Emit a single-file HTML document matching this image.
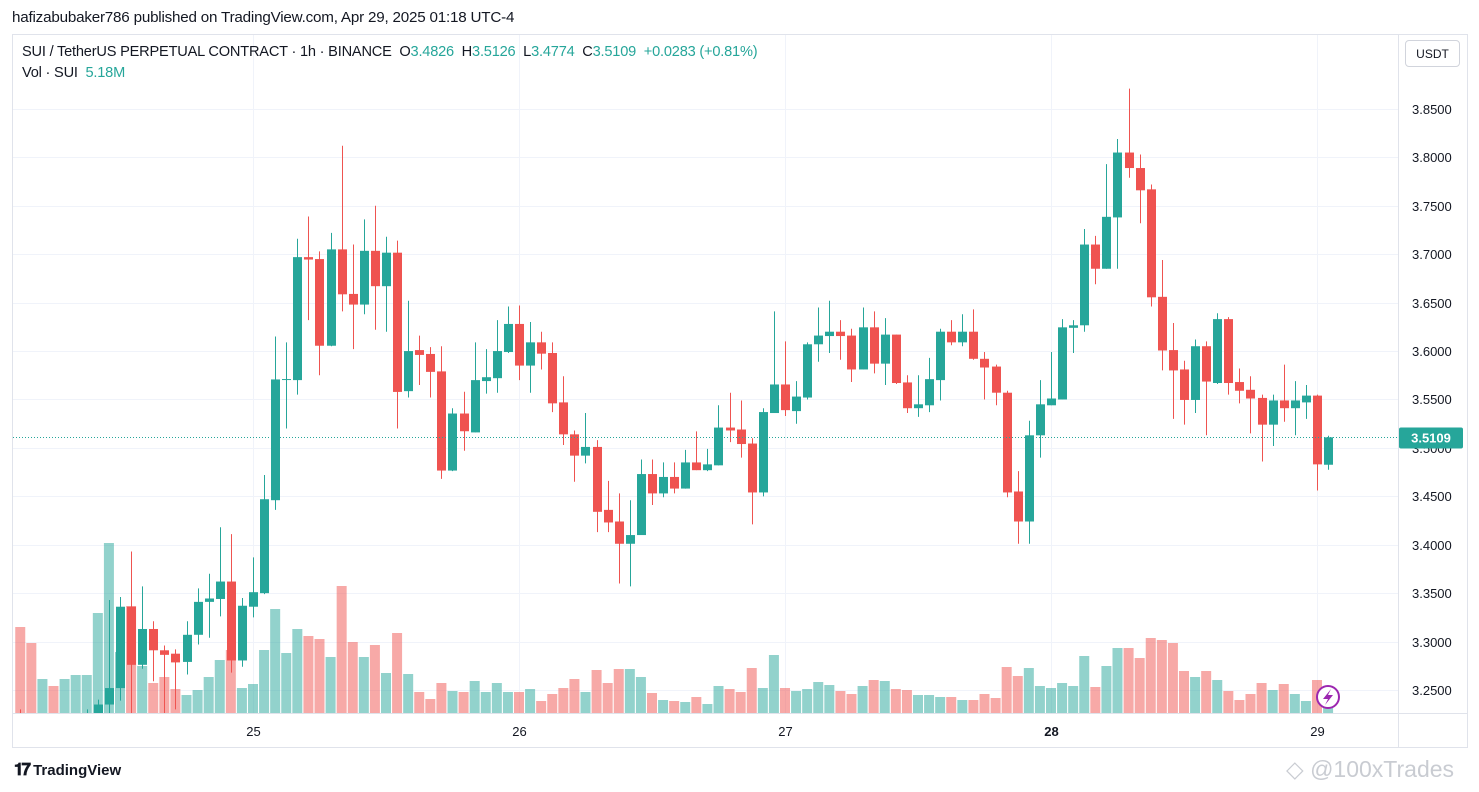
<!DOCTYPE html>
<html><head><meta charset="utf-8"><style>
html,body{margin:0;padding:0;background:#fff;width:1479px;height:792px;overflow:hidden;font-family:"Liberation Sans",sans-serif;color:#131722}
#pub{position:absolute;left:12px;top:9px;font-size:15.2px;letter-spacing:-0.2px}
#legend{position:absolute;left:22px;top:44px;font-size:14.6px;letter-spacing:-0.2px;white-space:nowrap}
#legend2{position:absolute;left:22px;top:65px;font-size:14.6px;letter-spacing:-0.2px}
.g{color:#26a69a}
#usdt{position:absolute;left:1405px;top:40px;width:55px;height:27px;border:1px solid #d1d4dc;border-radius:4px;font-size:12px;text-align:center;line-height:27px;box-sizing:border-box}
#tvlogo{position:absolute;left:14px;top:760px;font-size:15px;font-weight:bold;color:#131722}
#wm{position:absolute;left:1286px;top:756px;font-size:23px;color:#c9ccd2}
</style></head><body>
<div id="pub">hafizabubaker786 published on TradingView.com, Apr 29, 2025 01:18 UTC-4</div>
<svg id="chart" width="1479" height="792" style="position:absolute;left:0;top:0"></svg>
<div id="legend">SUI / TetherUS PERPETUAL CONTRACT · 1h · BINANCE&nbsp;&nbsp;O<span class="g">3.4826</span>&nbsp;&nbsp;H<span class="g">3.5126</span>&nbsp;&nbsp;L<span class="g">3.4774</span>&nbsp;&nbsp;C<span class="g">3.5109</span>&nbsp;&nbsp;<span class="g">+0.0283 (+0.81%)</span></div>
<div id="legend2">Vol · SUI&nbsp;&nbsp;<span class="g">5.18M</span></div>
<div id="usdt">USDT</div>
<div id="tvlogo"><span style="font-size:17px;letter-spacing:-2px">𝟏𝟕</span> TradingView</div>
<div id="wm">◇ @100xTrades</div>
<script>
const startIndex = -21;
const opens = [3.22,3.20,3.18,3.20,3.19,3.20,3.21,3.22,
3.235,3.252,3.336,3.276,3.313,3.291,3.2875,3.279,3.307,3.341,3.344,3.362,3.2805,3.336,3.350,3.446,3.5707,3.570,3.697,3.695,3.6055,3.705,3.659,3.648,3.7035,3.667,3.7016,3.5586,3.601,3.597,3.579,3.4766,3.5355,3.516,3.569,3.572,3.599,3.628,3.585,3.609,3.598,3.547,3.514,3.492,3.501,3.436,3.424,3.401,3.410,3.473,3.453,3.470,3.458,3.485,3.477,3.482,3.521,3.519,3.5045,3.454,3.536,3.5655,3.538,3.552,3.607,3.6155,3.620,3.616,3.581,3.6245,3.587,3.617,3.5676,3.541,3.544,3.570,3.620,3.609,3.620,3.592,3.584,3.557,3.455,3.424,3.513,3.544,3.550,3.624,3.6266,3.710,3.685,3.738,3.805,3.789,3.767,3.656,3.601,3.581,3.5495,3.605,3.567,3.633,3.568,3.560,3.5516,3.524,3.549,3.541,3.547,3.554,3.4826];
const highs = [3.23,3.21,3.21,3.21,3.21,3.22,3.23,3.24,
3.343,3.346,3.393,3.357,3.321,3.296,3.292,3.321,3.355,3.370,3.418,3.411,3.345,3.387,3.472,3.615,3.609,3.716,3.739,3.703,3.722,3.812,3.710,3.736,3.750,3.718,3.714,3.652,3.616,3.604,3.605,3.541,3.558,3.609,3.602,3.632,3.646,3.647,3.630,3.620,3.609,3.574,3.518,3.536,3.508,3.466,3.453,3.446,3.488,3.488,3.485,3.485,3.498,3.517,3.499,3.544,3.557,3.549,3.510,3.541,3.641,3.610,3.569,3.609,3.645,3.652,3.632,3.623,3.645,3.641,3.634,3.617,3.575,3.575,3.593,3.623,3.632,3.638,3.643,3.599,3.586,3.559,3.476,3.528,3.570,3.599,3.633,3.632,3.726,3.719,3.793,3.819,3.871,3.803,3.772,3.694,3.629,3.590,3.612,3.610,3.639,3.635,3.582,3.574,3.555,3.555,3.586,3.569,3.565,3.555,3.5126];
const lows = [3.18,3.17,3.17,3.18,3.18,3.19,3.20,3.20,
3.22,3.239,3.226,3.272,3.259,3.226,3.230,3.266,3.297,3.304,3.326,3.268,3.274,3.325,3.349,3.436,3.520,3.555,3.632,3.575,3.605,3.641,3.602,3.638,3.622,3.620,3.520,3.552,3.565,3.552,3.468,3.476,3.497,3.516,3.556,3.557,3.598,3.570,3.557,3.581,3.537,3.503,3.465,3.484,3.413,3.413,3.360,3.357,3.410,3.441,3.449,3.453,3.458,3.477,3.476,3.482,3.506,3.490,3.421,3.450,3.536,3.533,3.525,3.550,3.589,3.598,3.591,3.568,3.581,3.577,3.565,3.566,3.536,3.532,3.537,3.549,3.606,3.605,3.591,3.550,3.544,3.449,3.401,3.401,3.490,3.544,3.550,3.598,3.620,3.669,3.685,3.685,3.779,3.732,3.646,3.580,3.530,3.524,3.536,3.513,3.566,3.555,3.546,3.515,3.486,3.502,3.527,3.513,3.530,3.456,3.4774];
const closes = [3.20,3.18,3.20,3.19,3.20,3.21,3.22,3.235,
3.252,3.336,3.276,3.313,3.291,3.2863,3.2785,3.307,3.341,3.3445,3.362,3.2805,3.337,3.351,3.447,3.5707,3.5711,3.697,3.6945,3.6055,3.705,3.6586,3.648,3.7035,3.667,3.7016,3.5578,3.600,3.596,3.5785,3.4766,3.5355,3.5172,3.570,3.573,3.600,3.628,3.585,3.609,3.5973,3.546,3.514,3.492,3.501,3.434,3.423,3.401,3.410,3.473,3.453,3.470,3.458,3.485,3.477,3.483,3.521,3.518,3.504,3.454,3.537,3.5655,3.539,3.553,3.607,3.616,3.620,3.6155,3.581,3.6245,3.587,3.617,3.567,3.541,3.545,3.571,3.620,3.609,3.620,3.592,3.583,3.557,3.454,3.424,3.513,3.545,3.551,3.6245,3.6266,3.710,3.685,3.7386,3.805,3.789,3.766,3.6555,3.6006,3.580,3.5495,3.605,3.5685,3.633,3.567,3.559,3.551,3.524,3.549,3.541,3.549,3.554,3.483,3.5109];
const volumes = [86,70,34,27,34,38,38,100,170,61,107,47,30,36,24,18,23,36,53,63,25,29,63,104,60,84,77,74,56,127,71,56,68,40,80,39,21,14,30,22,21,32,21,30,21,21,24,12,19,25,34,21,43,30,44,44,36,20,13,12,11,16,9,27,24,21,45,25,58,25,22,24,31,28,22,19,27,33,32,24,23,18,18,16,16,13,13,19,15,46,37,45,27,25,30,27,57,26,47,65,65,55,75,73,70,42,36,42,33,22,13,19,30,23,29,19,12,33,5];
const priceTicks = [3.25,3.30,3.35,3.40,3.45,3.50,3.55,3.60,3.65,3.70,3.75,3.80,3.85];
const dayLabels = ["25","26","27","28","29"];
const dayOffsets = [0,24,48,72,96];
const lastPrice = 3.5109;

const NS="http://www.w3.org/2000/svg";
const svg=document.getElementById('chart');
const X0=253, STEP=11.0833;
const xAt=i=>X0+i*STEP;
const yAt=p=>690-(p-3.25)/0.05*48.42;
const volY=v=>713-v;
function mk(tag,attrs,parent){const e=document.createElementNS(NS,tag);for(const k in attrs)e.setAttribute(k,attrs[k]);(parent||svg).appendChild(e);return e;}

const frame=mk('rect',{x:12.5,y:34.5,width:1455,height:713,fill:'none',stroke:'#e0e3eb'});


const sepV=mk('line',{x1:1398.5,y1:34,x2:1398.5,y2:747,stroke:'#e0e3eb'});


const sepH=mk('line',{x1:12,y1:713.5,x2:1467,y2:713.5,stroke:'#e0e3eb'});



priceTicks.forEach(p=>{
  const y=Math.round(yAt(p))+0.5;
  const gl=mk('line',{x1:13,y1:y,x2:1398,y2:y,stroke:'#f0f3fa'});
  
  
  const t=mk('text',{x:1412,y:y+4.5,'font-size':13,fill:'#131722','font-family':'Liberation Sans, sans-serif'});
  t.textContent=p.toFixed(4);
  
  
});
dayLabels.forEach((d,k)=>{
  const x=Math.round(xAt(dayOffsets[k]))+0.5;
  const gl=mk('line',{x1:x,y1:35,x2:x,y2:713,stroke:'#f0f3fa'});
  
  
  const t=mk('text',{x:x,y:736,'font-size':13,fill:'#131722','text-anchor':'middle','font-weight':d==='28'?'bold':'normal','font-family':'Liberation Sans, sans-serif'});
  t.textContent=d;
  
  
});

const defs=mk('defs',{});
const cp=mk('clipPath',{id:'plot'},defs);
mk('rect',{x:13,y:35,width:1385,height:678},cp);
const g=mk('g',{'clip-path':'url(#plot)'});



volumes.forEach((v,k)=>{
  const i=startIndex+k, up=closes[k]>=opens[k];
  const x=xAt(i);
  const r=mk('rect',{x:x-5,y:volY(v),width:10,height:v,fill:up?'rgba(38,166,154,0.5)':'rgba(239,83,80,0.5)'},g);
  
  
});
opens.forEach((o,k)=>{
  const i=startIndex+k, c=closes[k], up=c>=o;
  const col=up?'#26a69a':'#ef5350';
  const x=Math.round(xAt(i));
  const w=mk('line',{x1:x+0.5,x2:x+0.5,y1:yAt(highs[k]),y2:yAt(lows[k]),stroke:col,'stroke-width':1},g);
  
  
  const top=yAt(Math.max(o,c)), bot=yAt(Math.min(o,c));
  const b=mk('rect',{x:x-4,y:top,width:9,height:Math.max(1,bot-top),fill:col},g);
  
  
});
const ly=Math.round(yAt(lastPrice))+0.5;
const ll=mk('line',{x1:13,x2:1398,y1:ly,y2:ly,stroke:'#26a69a','stroke-dasharray':'1 2'});


const lb=mk('rect',{x:1399,y:ly-10,width:64,height:21,rx:2,fill:'#26a69a'});


const lt=mk('text',{x:1431,y:ly+5,'font-size':13,'font-weight':'bold',fill:'#fff','text-anchor':'middle','font-family':'Liberation Sans, sans-serif'});
lt.textContent=lastPrice.toFixed(4);


const ic=mk('g',{});


mk('circle',{cx:1328,cy:697,r:11,fill:'#fff',stroke:'#9c27b0','stroke-width':2},ic);
mk('path',{d:'M1331 689 L1323 699 L1328 699 L1325 705 L1333 695 L1328 695 Z',fill:'#9c27b0'},ic);
</script>
</body></html>
